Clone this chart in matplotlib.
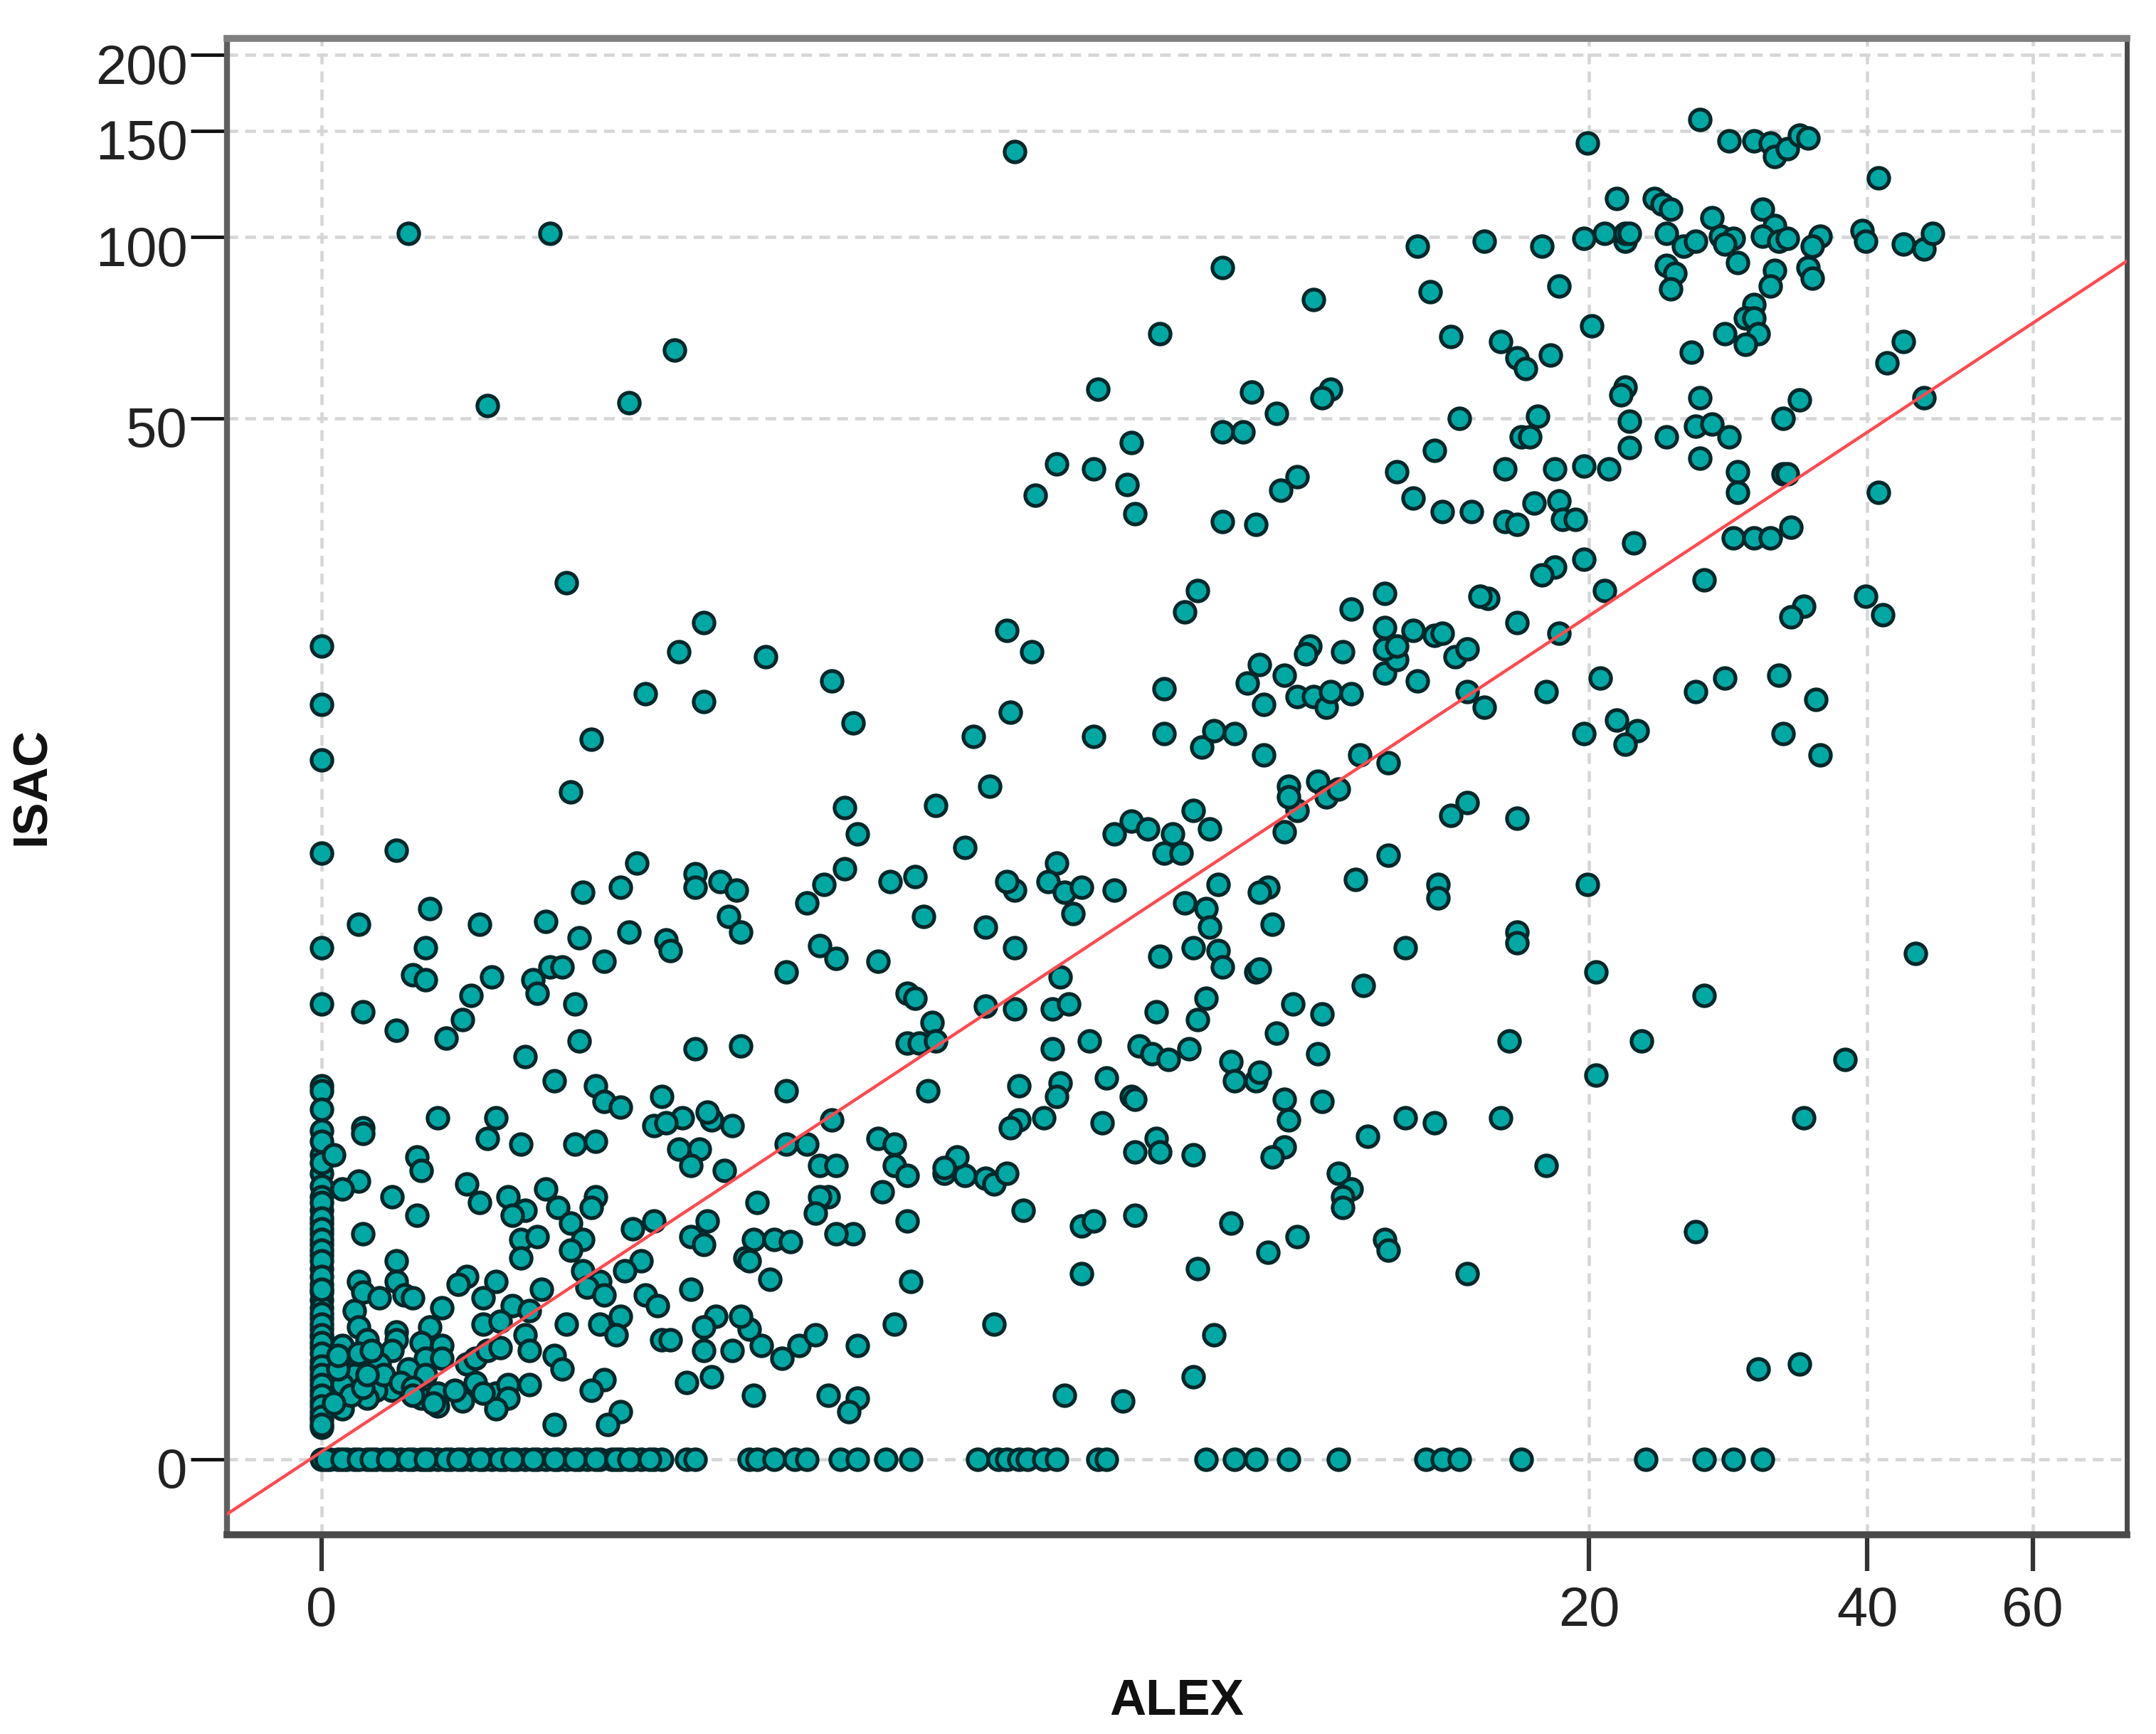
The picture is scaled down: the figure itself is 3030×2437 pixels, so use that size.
import matplotlib
matplotlib.use("Agg")
import matplotlib.pyplot as plt
from matplotlib.transforms import ScaledTranslation
import numpy as np

# values are read as ln(1 + value), that is how both axes are spaced
base_alex = [0, .02, .04, .06, .08, .11, .13, .15, .17, .19, .22, .24, .26, .28, .31, .34, .36, .39, .41, .44, .47, .49, .52, .54, .57, .59, .62, .64, .67, .70, .72, .75, .77, .80, .82,
	.88, .90, 1.03, 1.05, 1.09, 1.14, 1.17, 1.25, 1.29, 1.36, 1.42, 1.58, 1.63, 1.65, 1.68, 1.70, 1.74, 1.77, 1.87, 1.89, 2.13, 2.20, 2.25, 2.33, 2.45, 2.66, 2.70, 2.74, 2.89, 3.19, 3.33, 3.40, 3.47,
	.01, .05, .09, .12, .16, .21, .25, .30, .33, .38, .43, .46, .51, .56, .61, .66, .71, .74, .79]

column_isac = [3.07, 2.85, 2.64, 2.29, 1.93, 1.72, 1.41, 1.39, 1.32, 1.24, 1.15, 1.08, 1.03, .99, .94, .89, .85, .81, .77, .72, .66, .63, .60, .57, .53, .49, .46, .42, .37, .34, .30, .26, .22, .18, .15, .12,
	1.20, 1.12, .97, .91, .87, .83, .79, .75, .69, .64, .55, .51, .47, .44, .40, .35, .32, .28, .24, .20, .16, .13]

top_alex = [.21, .55, 1.67, 3.05, 3.32, 3.39, 3.45, 3.49, 3.50, 3.53, 3.56, 3.58, 3.75, 3.12, 3.21, 3.23, 3.25, 3.47, 3.35, 3.50,
	2.94, 3.04, 3.09, 3.14, 3.14, 3.15, 3.24, 3.28, 3.31, 3.37, 3.40, 3.38, 3.47, 3.51, 3.53, 3.61, 3.59, 3.71, 3.72, 3.81,
	3.86, 3.88, 3.41, 3.50, 3.58, 3.59, 3.24, 3.26, 3.25, 3.49, 3.45, 3.43, 3.45, 2.98, 3.06, 3.38, 3.46, 3.43, 3.30, 3.81,
	3.77, 2.84, 2.88, 2.90, 2.96, 3.14, 3.13, 3.32, 3.56, 3.52, 2.93, 2.89, 2.91, 3.15, 3.15, 3.24, 3.31, 3.35, 3.39, 3.32,
	2.85, 2.97, 3.04, 3.10, 3.41, 3.52, 3.53, 3.86, 2.64, 2.80, 2.67, 2.17, 2.39, 2.02, 2.72, .85, .40, .74, 2.74, 2.43,
	2.41, 1.87, 2.24, 2.30, 2.17, 2.22, 1.95, 2.68, 1.77, 1.86, 2.35, 2.59]
top_isac = [4.63, 4.63, 4.94, 4.97, 5.06, 4.98, 4.98, 4.97, 4.92, 4.95, 5.00, 4.99, 4.84, 4.76, 4.76, 4.74, 4.72, 4.72, 4.69, 4.66,
	4.58, 4.61, 4.63, 4.60, 4.63, 4.63, 4.63, 4.58, 4.60, 4.62, 4.61, 4.59, 4.62, 4.60, 4.61, 4.62, 4.58, 4.64, 4.60, 4.59,
	4.57, 4.63, 4.52, 4.49, 4.50, 4.46, 4.51, 4.48, 4.42, 4.43, 4.36, 4.31, 4.31, 4.43, 4.28, 4.25, 4.25, 4.21, 4.18, 4.22,
	4.14, 4.22, 4.16, 4.12, 4.17, 4.05, 4.02, 4.01, 4.00, 3.93, 3.94, 3.86, 3.86, 3.92, 3.82, 3.86, 3.90, 3.91, 3.86, 3.78,
	3.74, 3.74, 3.75, 3.74, 3.73, 3.72, 3.72, 4.01, 4.58, 4.60, 4.41, 4.50, 4.38, 4.25, 4.24, 4.19, 3.98, 3.99, 3.93, 4.04,
	4.01, 4.04, 4.03, 3.95, 3.88, 3.88, 3.84, 3.81, 3.76, 3.74, 3.71, 3.73]

upper_alex = [1.94, 2.31, 1.72, 1.96, 2.63, 2.70, 2.77, 2.17, 2.25, 2.85, 2.88, 2.92, 2.98, 2.99, 3.02, 3.16, 3.04, 3.41, 3.75, 3.40,
	3.45, 3.49, 3.54, 3.33, 3.09, 2.97, 2.94, .59, 2.11, 2.08, 2.48, 2.56, 2.81, 2.79, 2.88, 2.98, 3.57, 3.54, 3.72, 3.76,
	.92, .86, 1.07, 1.65, 1.71, .78, .92, 1.23, 1.28, .65, .60, 1.66, 1.57, 1.86, 2.03, 2.03, 2.12, 2.15, 2.20, 2.27,
	2.23, 2.32, 2.27, 2.35, 2.39, 2.42, 2.43, 2.48, 2.56, 2.59, 2.56, 2.56, 2.59, 2.63, 2.68, 2.70, 2.73, 2.76, 2.38, 2.37,
	2.46, 2.26, 2.64, 2.76, 2.80, 2.95, 3.08, 3.04, 3.12, 3.17, 3.14, 3.31, 3.38, 3.51, 3.60, 3.52, 3.61, 1.61, 1.26, 1.48,
	2.10, 2.35, 2.33, 2.33, 2.40, 2.42, 2.45, 2.50, 2.57, 2.72, 2.76, 2.88, 1.95]
upper_isac = [3.68, 3.66, 3.64, 3.57, 3.63, 3.58, 3.58, 3.54, 3.53, 3.54, 3.53, 3.61, 3.62, 3.55, 3.55, 3.46, 3.40, 3.65, 3.65, 3.48,
	3.48, 3.48, 3.52, 3.32, 3.28, 3.37, 3.34, 3.31, 3.28, 3.20, 3.21, 3.27, 3.25, 3.26, 3.16, 3.12, 3.22, 3.18, 3.26, 3.19,
	3.16, 3.05, 3.03, 3.13, 3.05, 2.89, 2.86, 2.94, 2.78, 2.72, 2.52, 2.82, 2.73, 2.73, 2.91, 2.74, 2.69, 2.75, 2.74, 2.66,
	2.93, 2.96, 2.85, 2.88, 2.88, 2.84, 2.90, 2.89, 2.97, 3.02, 3.14, 3.06, 3.07, 3.13, 3.11, 3.12, 3.03, 3.06, 3.07, 3.04,
	3.05, 3.00, 2.94, 2.90, 2.84, 2.90, 2.95, 2.74, 2.79, 2.75, 2.70, 2.90, 2.95, 2.96, 2.87, 2.74, 2.66, 2.54, 2.46, 2.47,
	2.45, 2.45, 2.54, 2.50, 2.56, 2.50, 2.53, 2.66, 2.63, 2.43, 2.48, 2.42, 2.41]

middle_alex = [1.29, 1.55, 1.91, 1.99, 2.05, 2.14, 2.03, 2.07, 2.32, 2.57, 2.69, 2.69, 2.49, 2.28, 2.26, 3.05, 2.29, .18, .76, .72,
	.63, .90, .90, .96, 1.00, .98, 1.01, .74, .62, .54, .38, .26, .09, .25, .22, .25, .41, .36, .51, .52,
	.55, .58, .68, .83, .84, .61, .62, .10, .18, .30, .34, .49, .56, .90, 1.01, 1.12, 1.17, 1.21, 1.26, 1.37,
	1.43, 1.45, 1.20, 1.24, 1.34, 1.12, 1.41, 1.43, 1.60, 1.67, 1.65, 1.67, 1.60, 1.67, 1.41, 1.44, 1.47, 1.48, 1.46, 1.77,
	1.75, 1.79, 1.83, 1.81, 1.91, 2.08, 2.16, 2.13, 2.14, 2.16, 2.17, 2.02, 2.10, 2.25, 2.26, 1.78, 1.76, 1.80, 2.01, 2.13,
	2.11, 1.85, 1.76, 1.78, 1.77, 1.68, 1.89, 1.95, 1.97, 2.00, 2.04, 2.09, 2.19, 2.20, 2.25, 2.26, 2.30, 2.34, 2.41, 2.40,
	2.61, 2.51, 2.88, 2.88, 3.07, 3.33, 3.84, 3.18, 2.86, 3.07, 3.67, .66, .82]
middle_isac = [2.36, 2.31, 2.36, 2.38, 2.36, 2.38, 2.29, 2.29, 2.37, 2.28, 2.17, 2.12, 2.19, 2.16, 2.14, 2.17, 2.02, 2.30, 2.25, 2.16,
	2.14, 2.21, 2.16, 2.18, 2.15, 2.05, 1.99, 1.99, 1.97, 2.03, 2.02, 2.08, 2.02, 1.93, 1.83, 1.81, 1.82, 1.75, 1.81, 1.76,
	1.86, 1.86, 1.88, 1.96, 1.92, 1.72, 1.58, 1.69, 1.62, 1.59, 1.66, 1.52, 1.43, 1.55, 1.56, 1.39, 2.10, 2.17, 2.23, 2.18,
	2.20, 2.05, 1.94, 1.89, 1.88, 1.84, 1.76, 1.74, 2.01, 2.15, 2.18, 1.93, 1.71, 1.70, 1.57, 1.57, 1.65, 1.58, 1.39, 2.25,
	2.18, 2.14, 2.16, 2.06, 2.15, 2.10, 2.17, 2.08, 2.01, 1.92, 1.86, 1.90, 1.93, 1.84, 1.85, 1.82, 1.70, 1.72, 1.69, 1.74,
	1.66, 1.58, 1.55, 1.42, 1.37, 1.41, 1.44, 1.37, 1.56, 1.53, 1.51, 1.55, 1.50, 1.43, 1.43, 1.46, 1.61, 1.72, 1.68, 1.53,
	1.93, 1.79, 1.99, 1.95, 1.84, 1.75, 1.91, 1.58, 1.58, 1.45, 1.51, 1.41, 1.37]

lower_alex = [1.96, 1.88, 1.74, 1.68, 1.66, 2.41, 2.32, 2.33, 2.32, 2.29, 2.19, 2.61, 2.68, 2.84, 2.52, 2.95, 3.57, 2.45, 2.48, 2.46,
	2.46, 2.56, 2.57, 2.35, 2.28, 2.11, 2.76, 3.31, 2.01, 2.02, 1.96, 2.10, 1.96, 1.83, 1.86, 1.83, 1.69, 1.60, 1.55, 1.53,
	1.50, 1.50, 1.62, 1.65, 1.34, 1.38, 1.38, 1.41, 1.35, 1.41, 1.28, 1.24, 1.42, 1.38, 1.62, 2.15, 2.10, 1.93, 1.79, 3.46,
	3.56, 1.29, 1.22, 1.29, 1.27, 1.04, 1.12, 1.23, 1.17, 1.20, 1.24, 1.22, 1.20, 1.19, 1.05, 1.04, 1.02, 1.03, 1.09, 1.13,
	1.08, 1.03, 1.06, 1.11, 1.15, 1.19, 1.01, .99, .95, .99, .97, .94, .93]
lower_isac = [1.36, 1.27, 1.29, 1.28, 1.25, 1.35, 1.36, 1.28, 1.18, 1.14, .89, 1.29, 1.27, 1.29, 1.22, 1.11, 1.29, 1.08, 1.02, .99,
	.95, .83, .79, .84, .78, .72, .70, .86, 1.21, 1.16, 1.16, 1.15, .92, .88, .90, .70, .94, 1.06, 1.07, 1.14,
	1.08, 1.10, 1.04, 1.08, 1.21, 1.19, 1.11, 1.07, 1.01, .90, .85, .85, .67, .51, .51, .47, .31, .22, .24, .34,
	.36, .43, .24, .23, .18, .24, 1.19, 1.28, 1.19, 1.11, 1.11, .99, .99, .93, .97, .83, .76, .75, .83, .82,
	.68, .49, .43, .38, .43, .47, .54, .41, .54, 1.26, 1.09, 1.28, 1.31]

corner_alex = [.68, .72, .87, .80, .83, .28, .42, .10, .10, .40, .48, .61, .66, .03, .23, .24, .86, .91, .89, .09,
	.05, .35, .38, .17, .23, .45, .49, .46, .54, .57, .60, .63, .60, .66, .65, .75, .80, .10, .48, .52,
	.48, .89, .92, .93, .18, .77, .73, .63, .67, .64, .68, .89, .78, .81, .35, .33, .42, .09, .10, .14,
	.18, .20, .22, .39, .29, .46, .50, .53, .08, .09, .26, .39, .43, .49, .50, .59, .67, .72, .71, .82,
	.84, .92, .92, .05, .11, .18, .18, .17, .24, .29, .25, .29, .09, .14, .21, .35, .37, .40, .43, .08,
	.13, .25, .17, .13, .05, .37, .11, .05, .24, .28, .28, .34, .42, .45, .45, .42, .50, .56, .58, .68,
	.65, .88, .72, .69, .56, .94,
	.09, .12, .15, .19, .22, .07, .10, .11, .22, .27, .32, .39, .04, .04, .03]
corner_isac = [1.35, 1.33, 1.29, 1.26, 1.27, 1.29, 1.29, 1.25, 1.23, 1.21, 1.19, 1.19, 1.20, 1.15, 1.14, 1.09, 1.17, 1.17, 1.11, 1.05,
	1.02, 1.04, .97, .99, .92, .99, .94, .92, 1.02, .95, .89, .83, .79, .99, .95, .87, .90, .85, .83, .84,
	.76, .84, .81, .90, .75, .75, .71, .71, .67, .65, .62, .64, .62, .58, .69, .66, .67, .67, .63, .61,
	.67, .62, .61, .61, .57, .58, .56, .64, .56, .50, .50, .51, .52, .47, .41, .51, .51, .54, .47, .45,
	.45, .50, .41, .43, .45, .48, .45, .41, .44, .43, .38, .38, .36, .36, .34, .36, .38, .41, .42, .32,
	.30, .32, .26, .26, .28, .29, .23, .19, .23, .25, .20, .22, .25, .28, .23, .19, .28, .39, .34, .30,
	.26, .29, .18, .13, .13, .31,
	.40, .41, .32, .29, .27, .24, .27, .32, .24, .21, .26, .25, .34, .39, .21]

line_alex = [-.227, 4.337]
line_isac = [-.208, 4.525]

x_ticks = [0, 20, 40, 60]
y_ticks = [0, 50, 100, 150, 200]
x_range = [-.227, 4.337]
y_range = [-.286, 5.366]

# small correction found when the ticks were compared with the picture
alex_unit = .9974

scatter_alex = base_alex + [0] * len(column_isac) + top_alex + upper_alex + middle_alex + lower_alex + corner_alex
scatter_isac = [0] * len(base_alex) + column_isac + top_isac + upper_isac + middle_isac + lower_isac + corner_isac

plt.rcParams['font.family'] = ['Liberation Sans', 'DejaVu Sans']

fig = plt.figure(figsize=(30.3, 24.37), dpi=100)
ax = fig.add_axes([319 / 3030, 1 - 2157 / 2437, (2989 - 319) / 3030, (2157 - 54) / 2437])
ax.set_xscale('function', functions=(np.log1p, np.expm1))
ax.set_yscale('function', functions=(np.log1p, np.expm1))

ax.scatter(np.expm1(np.array(scatter_alex) * alex_unit), np.expm1(scatter_isac), s=440, c='#00a8a3', edgecolors='#04282a', linewidths=3.8, zorder=3)
ax.plot(np.expm1(line_alex), np.expm1(line_isac), color='#ff4a50', lw=3.2, zorder=4)

ax.set_xlim(np.expm1(x_range))
ax.set_ylim(np.expm1(y_range))
ax.set_xticks(x_ticks)
ax.set_yticks(y_ticks)
ax.set_xticklabels([str(t) for t in x_ticks])
ax.set_yticklabels([str(t) for t in y_ticks])
ax.minorticks_off()

ax.set_axisbelow(True)
ax.grid(True, color='#d6d6d6', lw=3.3, linestyle=(0, (3.3, 2.2)))
ax.tick_params(axis='x', length=37, width=4.5, color='#333333', labelsize=56, labelcolor='#222222', pad=14)
ax.tick_params(axis='y', length=37, width=3.5, color='#111111', labelsize=56, labelcolor='#222222', pad=3)

# the y labels sit a little below their ticks in the picture
drop = ScaledTranslation(0, -12 / 100, fig.dpi_scale_trans)
for label in ax.get_yticklabels():
	label.set_transform(label.get_transform() + drop)
	label.set_fontweight('light')
for label in ax.get_xticklabels():
	label.set_fontweight('light')

ax.spines['top'].set_linewidth(7)
ax.spines['top'].set_color('#808080')
ax.spines['left'].set_linewidth(6)
ax.spines['left'].set_color('#5f5f5f')
ax.spines['right'].set_linewidth(5)
ax.spines['right'].set_color('#4a4a4a')
ax.spines['bottom'].set_linewidth(7)
ax.spines['bottom'].set_color('#4a4a4a')

fig.text(1654 / 3030, 1 - 2392 / 2437, 'ALEX', fontsize=51, fontweight='bold', ha='center', va='center', color='#111111')
fig.text(45 / 3030, 1 - 1105 / 2437, 'ISAC', fontsize=50, fontweight='bold', rotation=90, ha='center', va='center', color='#111111')

fig.savefig('out.png', dpi=100)
plt.close(fig)
